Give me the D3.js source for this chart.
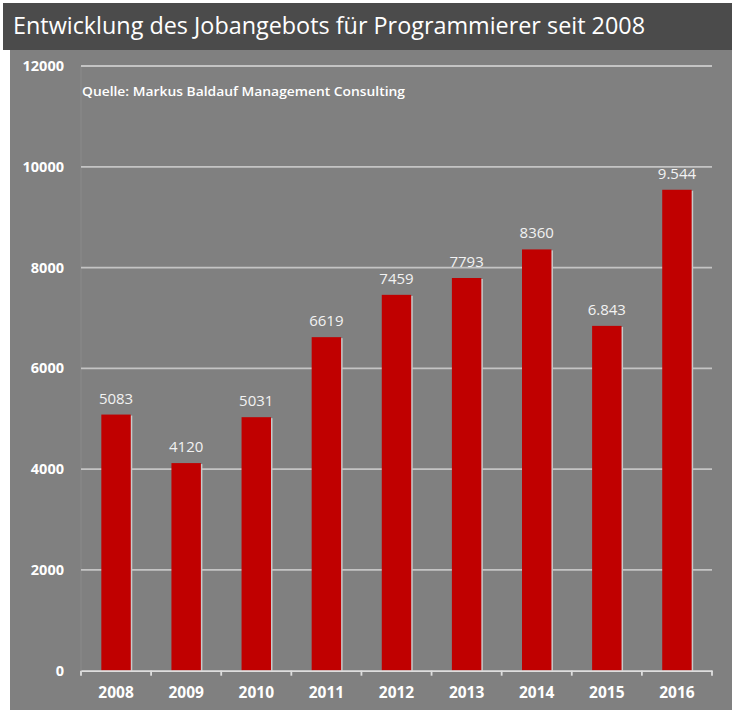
<!DOCTYPE html>
<html>
<head>
<meta charset="utf-8">
<script src="https://cdn.jsdelivr.net/npm/d3@7"></script>
<style>
  body { margin: 0; background: #fff; }
  svg { display: block; }
</style>
</head>
<body>
<div id="cnv"></div>
<script>
var years = ["2008", "2009", "2010", "2011", "2012", "2013", "2014", "2015", "2016"];
var jobs = [5083, 4120, 5031, 6619, 7459, 7793, 8360, 6843, 9544];
var valueLabels = ["5083", "4120", "5031", "6619", "7459", "7793", "8360", "6.843", "9.544"];
var yTicks = [0, 2000, 4000, 6000, 8000, 10000, 12000];

var width = 732, height = 710;

var svg = d3.select("#cnv").append("svg")
  .attr("width", width)
  .attr("height", height);

// background panels
svg.append("rect")
  .attr("x", 10).attr("y", 48)
  .attr("width", width - 10).attr("height", height - 48)
  .attr("fill", "#808080");
svg.append("rect")
  .attr("x", 3).attr("y", 3)
  .attr("width", width - 3).attr("height", 47)
  .attr("fill", "#4b4b4b");

svg.append("text")
  .attr("x", 13).attr("y", 34)
  .attr("fill", "#ffffff")
  .attr("font-family", "'Open Sans', sans-serif")
  .attr("font-size", 24)
  .attr("font-weight", 500)
  .attr("textLength", 632)
  .attr("lengthAdjust", "spacingAndGlyphs")
  .text("Entwicklung des Jobangebots für Programmierer seit 2008");

var xScale = d3.scaleBand()
  .domain(years)
  .range([81, 712])
  .paddingInner(0.58)
  .paddingOuter(0.29);

var yScale = d3.scaleLinear()
  .domain([0, 12000])
  .range([670.7, 66]);

// faint plot edge
svg.append("line")
  .attr("x1", 81).attr("x2", 81)
  .attr("y1", 66).attr("y2", 670)
  .attr("stroke", "#8a8a8a")
  .attr("stroke-width", 1);

// gridlines
svg.append("g")
  .selectAll("line")
  .data(yTicks.filter(function(d){ return d > 0; }))
  .enter().append("line")
    .attr("x1", 81).attr("x2", 712)
    .attr("y1", function(d){ return yScale(d); })
    .attr("y2", function(d){ return yScale(d); })
    .attr("stroke", "#c4c4c4")
    .attr("stroke-width", 1.8);

// y labels
var yAxis = svg.append("g")
  .attr("transform", "translate(64,0)")
  .call(d3.axisLeft(yScale).tickValues(yTicks).tickSize(0).tickPadding(0).tickFormat(d3.format("d")));
yAxis.select(".domain").remove();
yAxis.selectAll("text")
  .attr("fill", "#ffffff")
  .attr("font-family", "'Open Sans', sans-serif")
  .attr("font-weight", "bold")
  .attr("font-size", 14.5);

svg.append("text")
  .attr("x", 82).attr("y", 96)
  .attr("fill", "#ffffff")
  .attr("font-family", "'Open Sans', sans-serif")
  .attr("font-weight", "600")
  .attr("font-size", 13)
  .attr("textLength", 323)
  .attr("lengthAdjust", "spacingAndGlyphs")
  .text("Quelle: Markus Baldauf Management Consulting");

// bars with light shadow
var bars = svg.append("g");
bars.selectAll("rect.shadow")
  .data(jobs)
  .enter().append("rect")
    .attr("class", "shadow")
    .attr("x", function(d, i){ return xScale(years[i]) + 1.5; })
    .attr("y", function(d){ return yScale(d) + 1; })
    .attr("width", xScale.bandwidth())
    .attr("height", function(d){ return yScale(0) - yScale(d) - 1; })
    .attr("fill", "#c9c9c9");
bars.selectAll("rect.bar")
  .data(jobs)
  .enter().append("rect")
    .attr("class", "bar")
    .attr("x", function(d, i){ return xScale(years[i]); })
    .attr("y", function(d){ return yScale(d); })
    .attr("width", xScale.bandwidth())
    .attr("height", function(d){ return yScale(0) - yScale(d); })
    .attr("fill", "#c00000");

// value labels
svg.append("g")
  .selectAll("text")
  .data(jobs)
  .enter().append("text")
    .attr("x", function(d, i){ return xScale(years[i]) + xScale.bandwidth() / 2; })
    .attr("y", function(d){ return yScale(d) - 11; })
    .attr("text-anchor", "middle")
    .attr("fill", "#f2f2f2")
    .attr("font-family", "'Open Sans', sans-serif")
    .attr("font-size", 15)
    .text(function(d, i){ return valueLabels[i]; });

// x axis
var xAxis = svg.append("g")
  .attr("transform", "translate(0," + yScale(0) + ")")
  .call(d3.axisBottom(xScale).tickSize(0).tickPadding(16).tickSizeOuter(0));
xAxis.select(".domain")
  .attr("stroke", "#dedede")
  .attr("stroke-width", 1.8);
xAxis.selectAll("text")
  .attr("fill", "#ffffff")
  .attr("font-family", "'Open Sans', sans-serif")
  .attr("font-weight", "bold")
  .attr("font-size", 15.5);

// tick marks between categories
var tickPos = years.map(function(y){ return xScale(y) - xScale.step() * 0.29; });
tickPos.push(712);
svg.append("g")
  .selectAll("line")
  .data(tickPos)
  .enter().append("line")
    .attr("x1", function(d){ return d; }).attr("x2", function(d){ return d; })
    .attr("y1", yScale(0)).attr("y2", yScale(0) + 5)
    .attr("stroke", "#dedede")
    .attr("stroke-width", 1.8);
</script>
</body>
</html>
